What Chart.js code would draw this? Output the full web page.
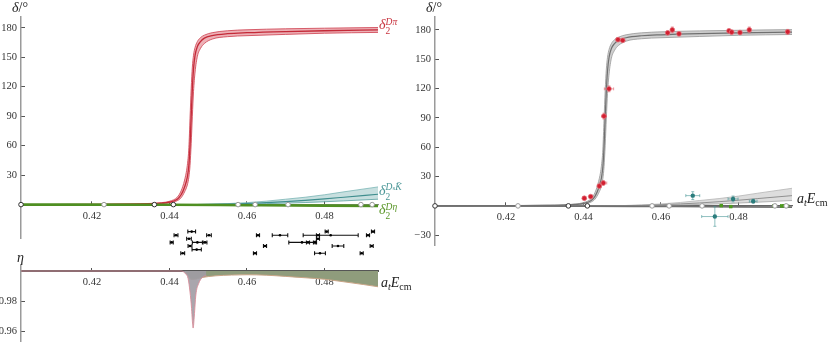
<!DOCTYPE html>
<html><head><meta charset="utf-8">
<script src="https://cdn.jsdelivr.net/npm/chart.js@4.4.1/dist/chart.umd.min.js"></script>
<style>
html,body{margin:0;padding:0;background:#fff;}
#wrap{position:relative;width:831px;height:342px;overflow:hidden;font-family:"Liberation Serif","DejaVu Serif",serif;}
canvas{position:absolute;}
.t{position:absolute;white-space:nowrap;line-height:1;font-size:14px;color:#222;}
.st{display:inline-block;vertical-align:-5px;font-size:9.5px;line-height:9px;}
.st span{display:block;}
.sb{font-size:10px;vertical-align:-3px;line-height:0;}
</style></head>
<body><div id="wrap">
<canvas id="cTop" style="left:0;top:0" width="415" height="250"></canvas>
<canvas id="cLev" style="left:0;top:222px" width="415" height="40"></canvas>
<canvas id="cEta" style="left:0;top:260px" width="415" height="82"></canvas>
<canvas id="cR" style="left:414px;top:0" width="417" height="250"></canvas>

<div class="t" style="left:12px;top:1px"><i>δ</i>/°</div>
<div class="t" style="left:426px;top:1px"><i>δ</i>/°</div>
<div class="t" style="left:17px;top:251px"><i>η</i></div>
<div class="t" style="left:379px;top:18px;color:#c8343f"><i>δ</i><span class="st"><span><i>D</i><i>π</i></span><span>2</span></span></div>
<div class="t" style="left:379px;top:183px;color:#4a9696"><i>δ</i><span class="st"><span><i>D</i><span style="display:inline;font-size:7px">s</span><i>K̄</i></span><span>2</span></span></div>
<div class="t" style="left:379px;top:203px;color:#5a9628"><i>δ</i><span class="st"><span><i>D</i><i>η</i></span><span>2</span></span></div>
<div class="t" style="left:381px;top:276px"><i>a</i><span class="sb"><i>t</i></span><i>E</i><span class="sb">cm</span></div>
<div class="t" style="left:797px;top:192px"><i>a</i><span class="sb"><i>t</i></span><i>E</i><span class="sb">cm</span></div>
</div>
<script>
// ---------- data ----------
const xMin = 0.40168, xMax = 0.49381;
const xTicks = [0.42, 0.44, 0.46, 0.48];
const yTicksLeft = [30, 60, 90, 120, 150, 180];
const yTicksRight = [-30, 30, 60, 90, 120, 150, 180];
const etaTicks = [0.98, 0.96];

const thrDark = [0.40168, 0.4361, 0.4410];
const thrLight = [0.4231, 0.4577, 0.4621, 0.4706, 0.4894, 0.4923];

const ePi = [0.40168, 0.423, 0.430, 0.435, 0.438, 0.440, 0.442, 0.443, 0.4439, 0.4446, 0.4450, 0.4453, 0.4456, 0.4459, 0.4462, 0.4466, 0.4472, 0.4480, 0.4490, 0.4510, 0.4550, 0.4600, 0.4700, 0.4800, 0.49381];
const dPiMid = [0, 0.2, 0.5, 0.9, 1.5, 2.5, 5.5, 10, 18, 28, 40, 60, 90, 118, 138, 152, 161, 166, 169.5, 172, 174, 175, 176.2, 177, 177.8];
const dPiHi  = [0, 0.3, 0.7, 1.2, 2.0, 3.4, 7.5, 14, 25, 40, 58, 88, 118, 140, 152, 160, 166, 170, 172.5, 175, 177, 178, 179, 179.6, 180.3];
const dPiLo  = [0, 0.1, 0.3, 0.6, 1.1, 1.8, 4.0, 7, 13, 20, 28, 40, 62, 90, 115, 135, 151, 159, 164, 168.5, 171, 172, 173.3, 174.5, 175.3];

const eK = [0.40168, 0.445, 0.450, 0.455, 0.460, 0.465, 0.470, 0.475, 0.480, 0.485, 0.49381];
const dKHi  = [0, 0, 0.3, 1.0, 2.0, 3.5, 5.5, 7.5, 10, 13, 18];
const dKMid = [0, 0, 0.2, 0.6, 1.2, 2.0, 3.0, 4.3, 5.8, 7.5, 10.5];
const dKLo  = [0, 0, 0.1, 0.3, 0.6, 1.0, 1.5, 2.1, 2.9, 3.8, 5.5];

const eDEta = [0.40168, 0.44, 0.46, 0.48, 0.49381];
const dDEta = [0, -0.2, -0.6, -1.0, -1.3];

const eSpike = [0.40168, 0.4430, 0.4442, 0.4448, 0.4453, 0.4457, 0.4459, 0.4461, 0.4464, 0.4468, 0.4475, 0.4486, 0.4495];
const etaSpike = [1, 1, 0.998, 0.995, 0.986, 0.975, 0.967, 0.962, 0.970, 0.984, 0.9915, 0.996, 0.997];
const eBand = [0.4440, 0.4448, 0.4455, 0.4465, 0.4480, 0.4520, 0.4560, 0.4600, 0.4650, 0.4700, 0.4750, 0.4800, 0.4850, 0.4900, 0.49381];
const etaBandLo = [1, 0.997, 0.9945, 0.9945, 0.9955, 0.9968, 0.9973, 0.9975, 0.9972, 0.9964, 0.9955, 0.9945, 0.9928, 0.991, 0.9895];

const levelE = [0.44573, 0.44168, 0.45019, 0.44057, 0.44503, 0.44529, 0.4472, 0.44916, 0.44702, 0.44341, 0.46284, 0.46852, 0.46465, 0.46206, 0.4816, 0.48057, 0.47832, 0.47832, 0.47419, 0.47574, 0.47755, 0.48348, 0.47884, 0.49123, 0.49252, 0.49218, 0.4896];
const levelErr = [0.0010, 0.0005, 0.0006, 0.0004, 0.0006, 0.0005, 0.0013, 0.0005, 0.0012, 0.0005, 0.0004, 0.0020, 0.0004, 0.0004, 0.0071, 0.0004, 0.0004, 0.0004, 0.0034, 0.0004, 0.0004, 0.0015, 0.0014, 0.0004, 0.0004, 0.0004, 0.0004];
const levelRow = [6, 5, 5, 3, 4, 2, 3, 3, 1, 0, 5, 5, 2, 0, 5, 6, 5, 4, 3, 3, 3, 2, 0, 5, 6, 2, 0];

const piE = [0.44021, 0.44186, 0.44408, 0.44511, 0.44529, 0.44658, 0.44890, 0.45012, 0.46173, 0.46292, 0.46465, 0.47755, 0.47824, 0.48039, 0.48279, 0.49270];
const piD = [7.8, 9.5, 20.3, 23.4, 91.8, 119.7, 170, 169.3, 177, 180, 176, 179, 177.7, 177.3, 180, 178];
const piEErr = [0.0004, 0.0004, 0.0005, 0.0009, 0.0006, 0.0012, 0.0005, 0.0005, 0.0004, 0.0004, 0.0004, 0.0004, 0.0004, 0.0004, 0.0004, 0.0005];
const piDErr = [1.5, 1.5, 2, 2, 3, 3, 2, 2, 2, 3, 2, 2, 2, 2, 3, 2.5];

const kE = [0.4682, 0.4739, 0.4786, 0.4838];
const kD = [10.5, -10.9, 7.1, 4.8];
const kEErr = [0.0018, 0.0034, 0.0013, 0.0010];
const kDErr = [4, 10, 3, 2];

const hE = [0.47557, 0.47799, 0.48916, 0.49115, 0.49182, 0.49244];
const hD = [0.3, -0.7, 0, 0, 0.2, 0];
const hEErr = [0.0003, 0.0003, 0.0003, 0.0003, 0.0003, 0.0006];
const hDErr = [0.8, 0.8, 0.8, 0.8, 0.8, 0.8];

// ---------- helpers ----------
const FONT = {family: 'Liberation Serif', size: 10.5};
const pts = (xs, ys) => xs.map((x, i) => ({x, y: ys[i]}));

const errorBars = {
  id: 'errorBars',
  beforeDatasetDraw(chart, args) {
    const ds = chart.data.datasets[args.index];
    if (!ds.errX && !ds.errY) return;
    const xs = chart.scales.x, ys = chart.scales.y, ctx = chart.ctx;
    const cap = ds.errCap || 2;
    ctx.save();
    ctx.strokeStyle = ds.errColor;
    ctx.lineWidth = ds.errWidth || 1;
    ctx.beginPath();
    ds.data.forEach((p, j) => {
      const px = xs.getPixelForValue(p.x), py = ys.getPixelForValue(p.y);
      if (ds.errX) {
        const a = xs.getPixelForValue(p.x - ds.errX[j]), b = xs.getPixelForValue(p.x + ds.errX[j]);
        ctx.moveTo(a, py); ctx.lineTo(b, py);
        ctx.moveTo(a, py - cap); ctx.lineTo(a, py + cap);
        ctx.moveTo(b, py - cap); ctx.lineTo(b, py + cap);
      }
      if (ds.errY) {
        const a = ys.getPixelForValue(p.y - ds.errY[j]), b = ys.getPixelForValue(p.y + ds.errY[j]);
        ctx.moveTo(px, a); ctx.lineTo(px, b);
        ctx.moveTo(px - cap, a); ctx.lineTo(px + cap, a);
        ctx.moveTo(px - cap, b); ctx.lineTo(px + cap, b);
      }
    });
    ctx.stroke();
    ctx.restore();
  }
};
Chart.register(errorBars);

function xScale(yAt, borderColor, borderWidth) {
  return {
    type: 'linear', min: xMin, max: xMax, position: {y: yAt},
    afterBuildTicks: s => { s.ticks = xTicks.map(v => ({value: v})); },
    afterFit: s => { s.height = 0; s.paddingLeft = 0; s.paddingRight = 0; s.paddingTop = 0; s.paddingBottom = 0; },
    grid: {display: true, drawOnChartArea: false, drawTicks: true, tickLength: -4, tickColor: '#555', lineWidth: 1},
    border: {display: true, color: borderColor, width: borderWidth},
    ticks: {font: FONT, color: '#333', padding: 9, maxRotation: 0, autoSkip: false, callback: v => v.toFixed(2)}
  };
}
function yScale(min, max, ticks, fmt) {
  return {
    type: 'linear', min, max, position: 'left',
    afterBuildTicks: s => { s.ticks = ticks.map(v => ({value: v})); },
    afterFit: s => { s.width = 21; s.paddingTop = 0; s.paddingBottom = 0; s.paddingLeft = 0; s.paddingRight = 0; },
    grid: {display: true, drawOnChartArea: false, drawTicks: true, tickLength: -4, tickColor: '#555', lineWidth: 1},
    border: {display: true, color: '#9a9a9a', width: 1.5},
    ticks: {font: FONT, color: '#333', padding: 8, autoSkip: false, callback: fmt}
  };
}
const line = (xs, ys, color, width, extra) => Object.assign({
  type: 'line', data: pts(xs, ys), borderColor: color, borderWidth: width,
  pointRadius: 0, cubicInterpolationMode: 'monotone', fill: false
}, extra || {});
const thr = (xs, border) => ({
  type: 'scatter', data: xs.map(x => ({x, y: 0})), showLine: false, clip: false,
  pointRadius: 2.3, pointBackgroundColor: '#fff', pointBorderColor: border, pointBorderWidth: 1
});
const common = (padding) => ({
  responsive: false, animation: false, events: [],
  layout: {padding},
  plugins: {legend: {display: false}, tooltip: {enabled: false}}
});
const degFmt = v => (v < 0 ? '\u2212' + Math.abs(v) : String(v));

// ---------- left top ----------
new Chart(document.getElementById('cTop'), {
  type: 'line',
  data: {datasets: [
    thr(thrDark, '#333'),
    thr(thrLight, '#999'),
    line(eDEta, dDEta, '#4f8f22', 2.6),
    line(ePi, dPiMid, '#c42a38', 1.3),
    line(ePi, dPiHi, '#d24e5c', 0.9),
    line(ePi, dPiLo, '#d24e5c', 0.9, {fill: '-1', backgroundColor: 'rgba(220,100,112,0.5)'}),
    line(eK, dKMid, '#3f8e8e', 1.1),
    line(eK, dKHi, '#7ab5b5', 0.8),
    line(eK, dKLo, '#5a9f9f', 0.8, {fill: '-1', backgroundColor: 'rgba(130,185,185,0.45)'})
  ]},
  options: Object.assign(common({left: 0, right: 37, top: 17, bottom: 12}), {
    scales: {x: xScale(0, '#8a8a8a', 1.3), y: yScale(-34, 191, yTicksLeft, degFmt)}
  })
});

// ---------- energy levels ----------
new Chart(document.getElementById('cLev'), {
  type: 'scatter',
  data: {datasets: [{
    data: pts(levelE, levelRow), errX: levelErr, errColor: '#111', errWidth: 1.1, errCap: 2,
    pointRadius: 1.3, pointBackgroundColor: '#000', pointBorderColor: '#000', borderWidth: 0
  }]},
  options: Object.assign(common({left: 21, right: 37, top: 0, bottom: 0}), {
    scales: {
      x: {type: 'linear', min: xMin, max: xMax, display: false},
      y: {type: 'linear', min: -1.333, max: 7.556, display: false}
    }
  })
});

// ---------- inelasticity ----------
new Chart(document.getElementById('cEta'), {
  type: 'line',
  data: {datasets: [
    line(eSpike, etaSpike, '#d88c98', 0.9, {fill: {value: 1}, backgroundColor: 'rgba(160,156,164,0.9)'}),
    line(eBand, etaBandLo, '#c9a486', 1.0, {fill: {value: 1}, backgroundColor: '#8f9c7c'})
  ]},
  options: Object.assign(common({left: 0, right: 37, top: 5, bottom: 0}), {
    scales: {x: xScale(1, '#555', 2), y: yScale(0.9527, 1.004, etaTicks, v => v.toFixed(2))}
  })
});

// ---------- right panel ----------
new Chart(document.getElementById('cR'), {
  type: 'line',
  data: {datasets: [
    thr(thrDark, '#333'),
    thr(thrLight, '#999'),
    {type: 'scatter', data: pts(piE, piD), errX: piEErr, errY: piDErr, errColor: 'rgba(220,90,100,0.55)', errCap: 1.5,
     pointRadius: 2.4, pointBackgroundColor: '#d21f30', pointBorderColor: 'rgba(230,120,130,0.7)', pointBorderWidth: 1},
    {type: 'scatter', data: pts(kE, kD), errX: kEErr, errY: kDErr, errColor: 'rgba(70,150,150,0.6)', errCap: 1.5,
     pointRadius: 2.2, pointBackgroundColor: '#2b7d7d', pointBorderColor: '#2b7d7d', pointBorderWidth: 0},
    {type: 'scatter', data: pts(hE, hD), errX: hEErr, errY: hDErr, errColor: 'rgba(80,150,40,0.6)', errCap: 1.5,
     pointStyle: 'rect', pointRadius: 2.4, pointBackgroundColor: '#4c9a1c', pointBorderColor: '#4c9a1c', pointBorderWidth: 0},
    line(eDEta, dDEta, '#707070', 1.6),
    line(ePi, dPiMid, '#707070', 1.2),
    line(ePi, dPiHi, '#a0a0a0', 0.9),
    line(ePi, dPiLo, '#a0a0a0', 0.9, {fill: '-1', backgroundColor: 'rgba(150,150,150,0.45)'}),
    line(eK, dKMid, '#909090', 1.0),
    line(eK, dKHi, '#b5b5b5', 0.8),
    line(eK, dKLo, '#a5a5a5', 0.8, {fill: '-1', backgroundColor: 'rgba(170,170,170,0.4)'})
  ]},
  options: Object.assign(common({left: 0, right: 39, top: 17, bottom: 4}), {
    scales: {x: xScale(0, '#666', 1.3), y: yScale(-40, 193.2, yTicksRight, degFmt)}
  })
});
</script>
</body></html>
